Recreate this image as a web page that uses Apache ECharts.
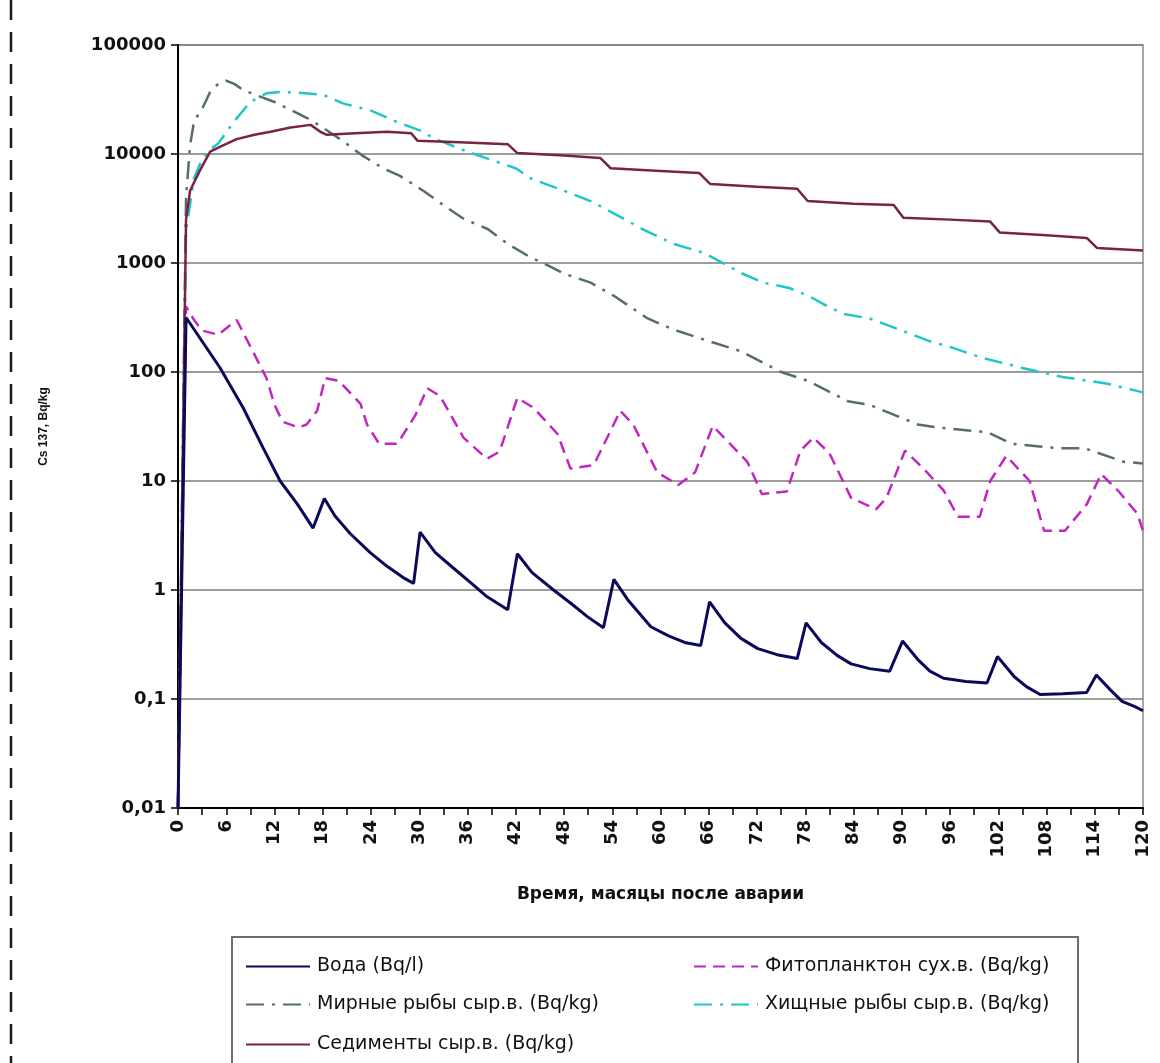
<!DOCTYPE html>
<html>
<head>
<meta charset="utf-8">
<script src="https://cdn.jsdelivr.net/npm/echarts@6/dist/echarts.min.js"></script>
<style>
html,body{margin:0;padding:0;background:#fff;}
#chart{width:1160px;height:1063px;}
</style>
</head>
<body>
<div id="chart"></div>
<script>
// ---- data (month, value) ----
var seriesNames = ['Вода (Bq/l)', 'Фитопланктон сух.в. (Bq/kg)', 'Мирные рыбы сыр.в. (Bq/kg)', 'Хищные рыбы сыр.в. (Bq/kg)', 'Седименты сыр.в. (Bq/kg)'];

var voda = [[0,0.01],[1,316],[5.2,110],[8.1,47],[10.6,20],[12.7,10],[14.8,6.2],[16.8,3.7],[18.2,6.9],[19.5,4.8],[21.4,3.3],[23.9,2.2],[26,1.65],[28,1.3],[29.3,1.15],
  [30.1,3.4],[32,2.2],[34.2,1.6],[36.5,1.15],[38.4,0.87],[41,0.66],[42.2,2.15],[44,1.45],[46.7,1.0],[49,0.74],[50.9,0.57],[52.9,0.45],
  [54.2,1.25],[56,0.8],[58.8,0.46],[61,0.38],[63,0.33],[65,0.31],[66.1,0.78],[68,0.5],[70,0.36],[72.1,0.29],[74.5,0.255],[77,0.235],
  [78.1,0.5],[80,0.33],[82,0.25],[83.7,0.21],[86,0.19],[88.5,0.18],[90.1,0.34],[92,0.23],[93.5,0.18],[95.2,0.155],[98,0.145],[100.6,0.14],
  [101.9,0.245],[104,0.16],[105.5,0.13],[107.2,0.11],[110,0.112],[113,0.115],[114.2,0.166],[116,0.12],[117.4,0.095],[119,0.085],[120,0.078]];

var phyto = [[0,0.01],[1,400],[2,300],[3,240],[5,220],[7.3,300],[9.3,155],[11,88],[12,50],[13,35],[15,31],[16,33],[17.3,44],[18.3,88],[20,83],[22.7,51],[23.5,33],[25,22],[27.3,22],[29.5,40],
  [31,71],[32.6,60],[35.5,25],[38.4,16],[40,18.6],[42.2,58],[44.2,47],[47.2,27],[48.8,13],[51.7,14],[55,44],[56.6,33],[59.6,12],[62.2,9.2],[64.3,12],
  [66.5,32],[70.8,15],[72.6,7.6],[75.7,8],[77.4,19],[79,25],[81,18],[83.7,7],[86.8,5.5],[88.1,7],[90.4,19],[92.7,13],[95.2,8.2],[97,4.7],[99.7,4.7],
  [101,10],[103,17],[105.9,10],[107.7,3.5],[110.3,3.5],[113,6.1],[114.8,11.6],[117,8],[119.3,5],[120,3.5]];

var mirnye = [[0,0.01],[1,4000],[1.5,12000],[2,20000],[3,26000],[4,37000],[5,44000],[6,47000],[7,44000],[8,39000],[10,34000],[12,30000],[13.5,26500],[16,21500],[18,17500],[20.6,13000],
  [23,9600],[25.5,7400],[27.6,6300],[30.5,4600],[33,3400],[35.5,2550],[38.5,2050],[41,1500],[43.8,1130],[46,950],[48,800],[51.3,660],[54.2,500],[58.4,310],[61.6,245],
  [66.2,190],[70,155],[75,100],[78.3,83],[83.3,54],[86,50],[92,33],[94.5,31],[100.7,28],[103.6,22],[109.4,20],[112.7,20],[117.6,15],[120,14.5]];

var hischnye = [[0,0.01],[1,2000],[2,6000],[3,9000],[4,11000],[5,12500],[7,20000],[9,30000],[11,36000],[12.7,37000],[15,36500],[18,35000],[20.6,29000],[24,25000],[27,20000],
  [30.5,16000],[31.7,14000],[36,10500],[42,7400],[44,5900],[48,4600],[51.3,3700],[55.4,2550],[58,2000],[61.6,1500],[65.4,1240],[70,810],[72.8,660],[76,590],[78.4,500],
  [80.5,410],[82.8,340],[86,310],[90,240],[93.6,190],[96,170],[100,135],[105,109],[110,90],[115.6,78],[120,65]];

var sedimenty = [[0,0.01],[1,2500],[1.5,4600],[2.7,7000],[4,10500],[5.6,12000],[7.3,13700],[9.5,15000],[11.5,16000],[14,17500],[16.5,18500],[17.7,16000],[18.5,15000],[22,15500],
  [26,16000],[29,15500],[29.8,13200],[35,12800],[41,12300],[42.2,10200],[48,9700],[52.5,9200],[53.8,7400],[60,7000],[64.8,6700],[66.2,5300],[72,5000],[77,4800],
  [78.3,3700],[84,3500],[89,3400],[90.2,2600],[96,2500],[101,2400],[102.2,1900],[108,1800],[113,1700],[114.3,1370],[120,1300]];

var yTickLabels = ['0,01','0,1','1','10','100','1000','10000','100000'];
var xTitle = 'Время, масяцы после аварии';
var yTitle = 'Cs 137, Bq/kg';

// ---- chart ----
var chart = echarts.init(document.getElementById('chart'));
var colors = ['#0a0a5c', '#c026c0', '#56705f', '#1fc6c8', '#7a2340'];
var lineStyles = [
  {width: 3, type: 'solid'},
  {width: 2.5, type: [12, 7]},
  {width: 2.5, type: [18, 8, 3, 8]},
  {width: 2.5, type: [18, 8, 3, 8]},
  {width: 2.5, type: 'solid'}
];
var datas = [voda, phyto, mirnye, hischnye, sedimenty];

var series = datas.map(function (d, i) {
  return {
    name: seriesNames[i],
    type: 'line',
    data: d,
    symbol: 'none',
    smooth: false,
    z: [6, 4, 3, 3, 5][i],
    lineStyle: {color: colors[i], width: lineStyles[i].width, type: lineStyles[i].type},
    itemStyle: {color: colors[i]}
  };
});

var legendPos = [
  {left: 240, top: 952},
  {left: 688, top: 952},
  {left: 240, top: 990},
  {left: 688, top: 990},
  {left: 240, top: 1030}
];
var legends = seriesNames.map(function (n, i) {
  return {
    data: [n],
    left: legendPos[i].left,
    top: legendPos[i].top,
    itemWidth: 64,
    itemHeight: 14,
    itemGap: 0,
    itemStyle: {opacity: 0},
    textStyle: {fontFamily: 'DejaVu Sans', fontSize: 19, color: '#111', padding: [0, 0, 0, 2]},
    selectedMode: false
  };
});

var option = {
  animation: false,
  backgroundColor: '#fff',
  grid: {left: 178, right: 17, top: 45, bottom: 255, show: true, borderColor: '#8a8a8a', borderWidth: 1.5, backgroundColor: 'transparent'},
  legend: legends,
  graphic: [
    {type: 'rect', shape: {x: 232, y: 937, width: 846, height: 160}, style: {fill: '#fff', stroke: '#6e6e6e', lineWidth: 2}, z: -1},
    {type: 'line', shape: {x1: 11, y1: 0, x2: 11, y2: 1063}, style: {stroke: '#1a1a1a', lineWidth: 2.5, lineDash: [20, 12]}}
  ],
  xAxis: {
    type: 'value', min: 0, max: 120, interval: 6,
    name: xTitle, nameLocation: 'middle', nameGap: 78,
    nameTextStyle: {fontFamily: 'DejaVu Sans', fontWeight: 'bold', fontSize: 17, color: '#111'},
    axisLine: {show: true, onZero: false, lineStyle: {color: '#000', width: 2}},
    axisTick: {show: true, length: 7, lineStyle: {color: '#000', width: 1.5}},
    minorTick: {show: true, splitNumber: 2, length: 7, lineStyle: {color: '#000', width: 1.5}},
    axisLabel: {rotate: 90, margin: 12, fontFamily: 'DejaVu Sans', fontWeight: 'bold', fontSize: 18, color: '#111'},
    splitLine: {show: false}
  },
  yAxis: {
    type: 'log', logBase: 10, min: 0.01, max: 100000,
    name: yTitle, nameLocation: 'middle', nameGap: 128, nameRotate: 90,
    nameTextStyle: {fontFamily: 'Liberation Sans', fontWeight: 'bold', fontSize: 12, color: '#111'},
    axisLine: {show: true, lineStyle: {color: '#000', width: 2}},
    axisTick: {show: true, length: 7, lineStyle: {color: '#000', width: 1.5}},
    minorTick: {show: false},
    axisLabel: {
      margin: 12, fontFamily: 'DejaVu Sans', fontWeight: 'bold', fontSize: 18, color: '#111',
      formatter: function (v) { return yTickLabels[Math.round(Math.log10(v)) + 2]; }
    },
    splitLine: {show: true, lineStyle: {color: '#7d7d7d', width: 1.5}}
  },
  series: series
};
chart.setOption(option);
</script>
</body>
</html>
